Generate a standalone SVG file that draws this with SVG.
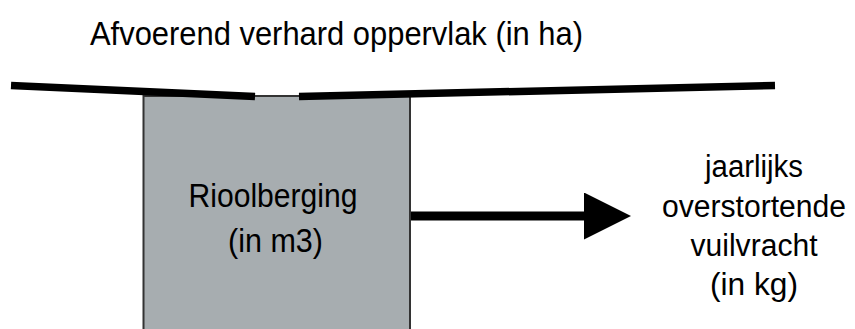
<svg xmlns="http://www.w3.org/2000/svg" width="855" height="329" viewBox="0 0 855 329">
  <style>
    .label { font-family: "Liberation Sans", Arial, sans-serif; font-size: 33px; fill: #000; text-anchor: middle; }
    .side { font-size: 31px; }
    .surface { stroke: #000; stroke-width: 7.5; stroke-linecap: butt; fill: none; }
    .flow { stroke: #000; stroke-width: 9; fill: none; }
    .storage { fill: #a7adb0; stroke: #333; stroke-width: 2; }
  </style>
  <defs>
    <marker id="arrowhead" markerUnits="userSpaceOnUse" viewBox="0 0 47 47" refX="0" refY="23.5" markerWidth="47" markerHeight="47" orient="auto">
      <path d="M0,0 L47,23.5 L0,47 Z" fill="#000"/>
    </marker>
  </defs>

  <rect width="855" height="329" fill="#fff"/>

  <!-- paved surface label -->
  <g id="surface-label">
    <text class="label" x="336.5" y="45" textLength="493" lengthAdjust="spacingAndGlyphs">Afvoerend verhard oppervlak (in ha)</text>
  </g>

  <!-- sewer storage volume -->
  <g id="storage">
    <rect class="storage" x="143.5" y="96" width="266.5" height="250"/>
    <text class="label" x="273" y="207" textLength="169" lengthAdjust="spacingAndGlyphs">Rioolberging</text>
    <text class="label" x="275.5" y="252" textLength="95" lengthAdjust="spacingAndGlyphs">(in m3)</text>
  </g>

  <!-- overflow load -->
  <g id="overflow-load">
    <text class="label side" x="754" y="177" textLength="98" lengthAdjust="spacingAndGlyphs">jaarlijks</text>
    <text class="label side" x="754" y="217" textLength="184" lengthAdjust="spacingAndGlyphs">overstortende</text>
    <text class="label side" x="754" y="256" textLength="127" lengthAdjust="spacingAndGlyphs">vuilvracht</text>
    <text class="label side" x="754" y="295" textLength="88" lengthAdjust="spacingAndGlyphs">(in kg)</text>
  </g>

  <!-- connectors: sloping paved surface and outflow arrow -->
  <g id="connectors">
    <line class="surface" x1="11" y1="85.5" x2="255" y2="96.5"/>
    <line class="surface" x1="299" y1="96.5" x2="775" y2="85.5"/>
    <line class="flow" x1="411" y1="216" x2="584" y2="216" marker-end="url(#arrowhead)"/>
  </g>
</svg>
